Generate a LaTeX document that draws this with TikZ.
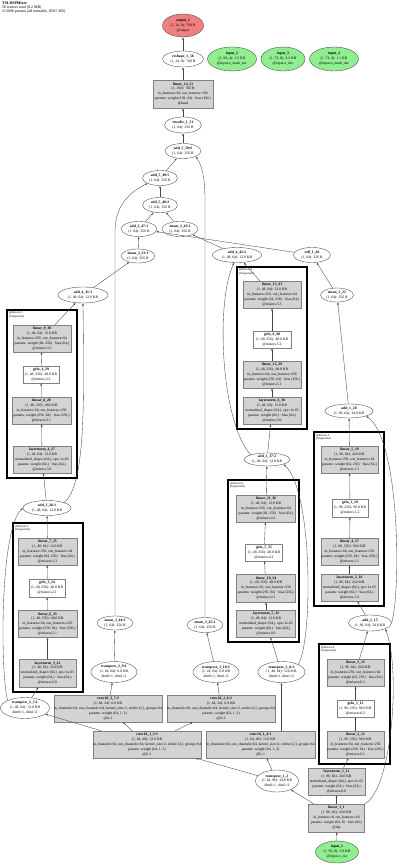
\documentclass[tikz,border=0pt]{standalone}
\usepackage{fontspec}
\setmainfont{Liberation Serif}
\usetikzlibrary{shapes.geometric,arrows.meta}
\definecolor{lgray}{RGB}{211,211,211}
\definecolor{lgreen}{RGB}{144,238,144}
\definecolor{lcoral}{RGB}{240,128,128}
\definecolor{edgec}{RGB}{70,70,70}
\newcommand{\gn}[7]{\node[#1,minimum width=#5pt,minimum height=#6pt] (#2) at (#3,#4) {};\node[txt] (#2t) at (#2.center) {#7};}
\tikzset{
  ell/.style={ellipse, draw=edgec, line width=0.35pt, fill=white, inner sep=0pt},
  grn/.style={ell, fill=lgreen},
  red/.style={ell, fill=lcoral},
  gbox/.style={rectangle, draw=gray, line width=0.35pt, fill=lgray, inner sep=0pt},
  wbox/.style={rectangle, draw=gray, line width=0.35pt, fill=white, inner sep=0pt},
  txt/.style={align=center, font=\fontsize{3.7}{4.95}\selectfont, inner sep=0pt},
  clus/.style={draw=black, line width=1.9pt},
  clab/.style={anchor=north west, align=left, font=\fontsize{3}{3.3}\selectfont, inner sep=0pt},
  ar/.style={-{Latex[length=2.4pt,width=1.8pt]}, line width=0.35pt, draw=edgec}
}
\begin{document}
\begin{tikzpicture}[x=1pt,y=-1pt]
\fill[white] (0,0) rectangle (400,866);
\useasboundingbox (0,0) rectangle (400,866);
\node[anchor=north west, align=left, font=\fontsize{3.9}{3.9}\selectfont, inner sep=0pt] (title) at (2,1.5) {\textbf{TSLDSPMixer}\\50 tensors total (0.2 MB)\\213008 params (all trainable, 850.5 KB)};
% clusters
\draw[clus] (7,310) rectangle (77,478);
\node[clab] (k3) at (9,311.8) {@mixers.3\\(Sequential)};
\draw[clus] (13,523) rectangle (83,692);
\node[clab] (k2) at (15,524.8) {@mixers.2\\(Sequential)};
\draw[clus] (228,480) rectangle (299,642);
\node[clab] (k4) at (230,481.8) {@mixers.4\\(Sequential)};
\draw[clus] (237,267) rectangle (307,429);
\node[clab] (k5) at (239,268.8) {@mixers.5\\(Sequential)};
\draw[clus] (314,432) rectangle (384,606);
\node[clab] (k1) at (316,433.8) {@mixers.1\\(Sequential)};
\draw[clus] (319,644) rectangle (390,764);
\node[clab] (k0) at (321,645.8) {@mixers.0\\(Sequential)};
% top
\gn{red}{out}{183}{25.5}{41}{23}{\textbf{output\_1}\\(1, 24, 8): 768 B\\@output}
\gn{ell}{resh}{183}{59}{41}{16}{\textbf{reshape\_1\_58}\\(1, 24, 8): 768 B}
\gn{grn}{inB}{232}{59}{49}{24}{\textbf{input\_2}\\(1, 96, 4): 1.5 KB\\@input.x\_mark\_enc}
\gn{grn}{inC}{283}{59}{44}{24}{\textbf{input\_3}\\(1, 72, 8): 2.2 KB\\@input.x\_dec}
\gn{grn}{inD}{334}{59}{49}{24}{\textbf{input\_4}\\(1, 72, 4): 1.1 KB\\@input.x\_mark\_dec}
\gn{gbox}{head}{183}{94}{60}{28}{\textbf{linear\_14\_52}\\(1, 192): 768 B\\in\_features=64, out\_features=192\\params: weight (192, 64) · bias (192,)\\@head}
\gn{ell}{div}{183}{125}{37}{16}{\textbf{truediv\_1\_51}\\(1, 64): 256 B}
\gn{ell}{a50}{183}{151}{36}{15}{\textbf{add\_5\_50:6}\\(1, 64): 256 B}
\gn{ell}{a49}{160}{178}{35}{15}{\textbf{add\_5\_49:5}\\(1, 64): 256 B}
\gn{ell}{a48}{160}{205}{35}{15}{\textbf{add\_5\_48:2}\\(1, 64): 256 B}
\gn{ell}{a47}{139}{229}{36}{15}{\textbf{add\_3\_47:1}\\(1, 64): 256 B}
\gn{ell}{m43}{180}{229}{36}{15}{\textbf{mean\_2\_43:2}\\(1, 64): 256 B}
\gn{ell}{m32}{138}{256}{34}{14}{\textbf{mean\_3\_32:1}\\(1, 64): 256 B}
\gn{ell}{a42}{237}{255}{49}{15}{\textbf{add\_4\_42:2}\\(1, 48, 64): 12.0 KB}
\gn{ell}{r46}{312}{255}{37}{15}{\textbf{roll\_1\_46}\\(1, 64): 256 B}
\gn{ell}{m21}{337}{295}{33}{14}{\textbf{mean\_1\_21}\\(1, 64): 256 B}
\gn{ell}{a20}{349}{411}{48}{14}{\textbf{add\_1\_20}\\(1, 96, 64): 24.0 KB}
\gn{ell}{a31}{83}{295}{50}{16}{\textbf{add\_4\_31:1}\\(1, 48, 64): 12.0 KB}
% mixers.3
\gn{gbox}{l30}{42}{338.5}{58}{27}{\textbf{linear\_9\_30}\\(1, 48, 64): 12.0 KB\\in\_features=256, out\_features=64\\params: weight (64, 256) · bias (64,)\\@mixers.3.3}
\gn{wbox}{g29}{41}{374.5}{36}{17}{\textbf{gelu\_4\_29}\\(1, 48, 256): 48.0 KB\\@mixers.3.2}
\gn{gbox}{l28}{41.5}{410.5}{59}{27}{\textbf{linear\_8\_28}\\(1, 48, 256): 48.0 KB\\in\_features=64, out\_features=256\\params: weight (256, 64) · bias (256,)\\@mixers.3.1}
\gn{gbox}{n27}{42}{459.5}{58}{27}{\textbf{layernorm\_4\_27}\\(1, 48, 64): 12.0 KB\\normalized\_shape=(64,), eps=1e-05\\params: weight (64,) · bias (64,)\\@mixers.3.0}
\gn{ell}{a26}{47}{508}{48}{15}{\textbf{add\_3\_26:1}\\(1, 48, 64): 12.0 KB}
% mixers.2
\gn{gbox}{l25}{47.5}{551.5}{59}{27}{\textbf{linear\_7\_25}\\(1, 48, 64): 12.0 KB\\in\_features=256, out\_features=64\\params: weight (64, 256) · bias (64,)\\@mixers.2.3}
\gn{wbox}{g24}{47}{588}{36}{18}{\textbf{gelu\_3\_24}\\(1, 48, 256): 48.0 KB\\@mixers.2.2}
\gn{gbox}{l23}{47.5}{624}{59}{27}{\textbf{linear\_6\_23}\\(1, 48, 256): 48.0 KB\\in\_features=64, out\_features=256\\params: weight (256, 64) · bias (256,)\\@mixers.2.1}
\gn{gbox}{n22}{47.5}{673}{57}{28}{\textbf{layernorm\_3\_22}\\(1, 48, 64): 12.0 KB\\normalized\_shape=(64,), eps=1e-05\\params: weight (64,) · bias (64,)\\@mixers.2.0}
\gn{ell}{tr5}{25}{708}{49}{21}{\textbf{transpose\_2\_5:1}\\(1, 48, 64): 12.0 KB\\dim0=1, dim1=2}
% bottom middle
\gn{ell}{m44}{115}{623}{36}{14}{\textbf{mean\_3\_44:3}\\(1, 64): 256 B}
\gn{ell}{m45}{205}{625}{36}{15}{\textbf{mean\_3\_45:2}\\(1, 64): 256 B}
\gn{ell}{tr9}{114}{672}{46}{21}{\textbf{transpose\_2\_9:1}\\(1, 24, 64): 6.0 KB\\dim0=1, dim1=2}
\gn{ell}{tr10}{216}{672}{46}{21}{\textbf{transpose\_3\_10:2}\\(1, 24, 64): 6.0 KB\\dim0=1, dim1=2}
\gn{ell}{tr8}{281.5}{672}{47}{21}{\textbf{transpose\_2\_8:2}\\(1, 48, 64): 12.0 KB\\dim0=1, dim1=2}
\gn{gbox}{c7}{108}{708.5}{108}{27}{\textbf{conv1d\_3\_7:2}\\(1, 64, 24): 6.0 KB\\in\_channels=64, out\_channels=64, kernel\_size=2, stride=(2,), groups=64\\params: weight (64, 1, 2)\\@lc.2}
\gn{gbox}{c6}{221}{708.5}{108}{27}{\textbf{conv1d\_2\_6:2}\\(1, 64, 24): 6.0 KB\\in\_channels=64, out\_channels=64, kernel\_size=2, stride=(2,), groups=64\\params: weight (64, 1, 2)\\@lc.2}
\gn{gbox}{c3}{147}{744.5}{108}{27}{\textbf{conv1d\_1\_3:1}\\(1, 64, 48): 12.0 KB\\in\_channels=64, out\_channels=64, kernel\_size=2, stride=(2,), groups=64\\params: weight (64, 1, 2)\\@lc.1}
\gn{gbox}{c4}{260.5}{744.5}{109}{27}{\textbf{conv1d\_1\_4:1}\\(1, 64, 48): 12.0 KB\\in\_channels=64, out\_channels=64, kernel\_size=2, stride=(2,), groups=64\\params: weight (64, 1, 2)\\@lc.1}
\gn{ell}{tr2}{277}{781}{43}{22}{\textbf{transpose\_1\_2}\\(1, 64, 96): 24.0 KB\\dim0=1, dim1=2}
% mixers.4
\gn{gbox}{l36}{266}{508.5}{59}{27}{\textbf{linear\_11\_36}\\(1, 48, 64): 12.0 KB\\in\_features=256, out\_features=64\\params: weight (64, 256) · bias (64,)\\@mixers.4.3}
\gn{wbox}{g35}{264}{552.5}{37}{17}{\textbf{gelu\_5\_35}\\(1, 48, 256): 48.0 KB\\@mixers.4.2}
\gn{gbox}{l34}{266}{588}{59}{28}{\textbf{linear\_10\_34}\\(1, 48, 256): 48.0 KB\\in\_features=64, out\_features=256\\params: weight (256, 64) · bias (256,)\\@mixers.4.1}
\gn{gbox}{n33}{266}{623.5}{59}{27}{\textbf{layernorm\_5\_33}\\(1, 48, 64): 12.0 KB\\normalized\_shape=(64,), eps=1e-05\\params: weight (64,) · bias (64,)\\@mixers.4.0}
\gn{ell}{a37}{267}{459.5}{46}{13}{\textbf{add\_3\_37:2}\\(1, 48, 64): 12.0 KB}
% mixers.5
\gn{gbox}{l41}{272}{294.5}{58}{27}{\textbf{linear\_13\_41}\\(1, 48, 64): 12.0 KB\\in\_features=256, out\_features=64\\params: weight (64, 256) · bias (64,)\\@mixers.5.3}
\gn{wbox}{g40}{272}{339.5}{38}{17}{\textbf{gelu\_6\_40}\\(1, 48, 256): 48.0 KB\\@mixers.5.2}
\gn{gbox}{l39}{272}{374.5}{58}{27}{\textbf{linear\_12\_39}\\(1, 48, 256): 48.0 KB\\in\_features=64, out\_features=256\\params: weight (256, 64) · bias (256,)\\@mixers.5.1}
\gn{gbox}{n38}{272}{410.5}{58}{27}{\textbf{layernorm\_6\_38}\\(1, 48, 64): 12.0 KB\\normalized\_shape=(64,), eps=1e-05\\params: weight (64,) · bias (64,)\\@mixers.5.0}
% mixers.1
\gn{gbox}{l19}{349.5}{459.5}{57}{27}{\textbf{linear\_5\_19}\\(1, 96, 64): 24.0 KB\\in\_features=256, out\_features=64\\params: weight (64, 256) · bias (64,)\\@mixers.1.3}
\gn{wbox}{g18}{350}{508}{36}{18}{\textbf{gelu\_2\_18}\\(1, 96, 256): 96.0 KB\\@mixers.1.2}
\gn{gbox}{l17}{349.5}{551.5}{57}{27}{\textbf{linear\_4\_17}\\(1, 96, 256): 96.0 KB\\in\_features=64, out\_features=256\\params: weight (256, 64) · bias (256,)\\@mixers.1.1}
\gn{gbox}{n16}{349.5}{587.5}{57}{27}{\textbf{layernorm\_2\_16}\\(1, 96, 64): 24.0 KB\\normalized\_shape=(64,), eps=1e-05\\params: weight (64,) · bias (64,)\\@mixers.1.0}
\gn{ell}{a15}{370}{623}{43}{16}{\textbf{add\_1\_15}\\(1, 96, 64): 24.0 KB}
% mixers.0
\gn{gbox}{l14}{355.5}{672.5}{57}{27}{\textbf{linear\_3\_14}\\(1, 96, 64): 24.0 KB\\in\_features=256, out\_features=64\\params: weight (64, 256) · bias (64,)\\@mixers.0.3}
\gn{wbox}{g13}{355.5}{708.5}{37}{17}{\textbf{gelu\_1\_13}\\(1, 96, 256): 96.0 KB\\@mixers.0.2}
\gn{gbox}{l12}{355.5}{744.5}{57}{27}{\textbf{linear\_2\_12}\\(1, 96, 256): 96.0 KB\\in\_features=64, out\_features=256\\params: weight (256, 64) · bias (256,)\\@mixers.0.1}
\gn{gbox}{n11}{336.5}{781.5}{57}{27}{\textbf{layernorm\_1\_11}\\(1, 96, 64): 24.0 KB\\normalized\_shape=(64,), eps=1e-05\\params: weight (64,) · bias (64,)\\@mixers.0.0}
\gn{gbox}{l1}{336.5}{818}{56}{28}{\textbf{linear\_1\_1}\\(1, 96, 64): 24.0 KB\\in\_features=8, out\_features=64\\params: weight (64, 8) · bias (64,)\\@inp}
\gn{grn}{in1}{337}{852}{43}{22}{\textbf{input\_1}\\(1, 96, 8): 3.0 KB\\@input.x\_enc}
% edges
\draw[ar] (in1) -- (l1);
\draw[ar] (l1) -- (n11);
\draw[ar] (l1) -- (tr2);
\draw[ar] (l1.north east) .. controls (392,790) and (401,670) .. (a15.south east);
\draw[ar] (n11) -- (l12);
\draw[ar] (l12) -- (g13);
\draw[ar] (g13) -- (l14);
\draw[ar] (l14) -- (a15);
\draw[ar] (a15) -- (n16);
\draw[ar] (n16) -- (l17);
\draw[ar] (l17) -- (g18);
\draw[ar] (g18) -- (l19);
\draw[ar] (l19) -- (a20);
\draw[ar] (a15.east) .. controls (401,590) and (400,440) .. (a20.south east);
\draw[ar] (a20) -- (m21);
\draw[ar] (m21) -- (r46);
\draw[ar] (r46) -- (a47);
\draw[ar] (tr2) -- (c3);
\draw[ar] (tr2) -- (c4);
\draw[ar] (c3) -- (c7);
\draw[ar] (c3) -- (c6);
\draw[ar] (c3) -- (tr5);
\draw[ar] (c4.north -| tr8.south) -- (tr8.south);
\draw[ar] (c7) -- (tr9);
\draw[ar] (c6) -- (tr10);
\draw[ar] (tr9) -- (m44);
\draw[ar] (tr10) -- (m45);
\draw[ar] (tr5) -- (n22);
\draw[ar] (tr5.north west) .. controls (0,670) and (0,530) .. (a26.west);
\draw[ar] (n22) -- (l23);
\draw[ar] (l23) -- (g24);
\draw[ar] (g24) -- (l25);
\draw[ar] (l25) -- (a26);
\draw[ar] (a26) -- (n27);
\draw[ar] (n27) -- (l28);
\draw[ar] (l28) -- (g29);
\draw[ar] (g29) -- (l30);
\draw[ar] (l30) -- (a31);
\draw[ar] (a26.north east) .. controls (86,485) and (84,400) .. (a31.south);
\draw[ar] (a31) -- (m32);
\draw[ar] (m32) -- (a47);
\draw[ar] (tr8) -- (n33);
\draw[ar] (n33) -- (l34);
\draw[ar] (l34) -- (g35);
\draw[ar] (g35) -- (l36);
\draw[ar] (l36) -- (a37);
\draw[ar] (tr8.north east) .. controls (313,640) and (313,490) .. (a37.south east);
\draw[ar] (a37) -- (n38);
\draw[ar] (n38) -- (l39);
\draw[ar] (l39) -- (g40);
\draw[ar] (g40) -- (l41);
\draw[ar] (l41) -- (a42);
\draw[ar] (a37.north west) .. controls (220,420) and (216,300) .. (a42.250);
\draw[ar] (a42) -- (m43);
\draw[ar] (a47) -- (a48);
\draw[ar] (m43) -- (a48);
\draw[ar] (a48) -- (a49);
\draw[ar] (a49) -- (a50);
\draw[ar] (a50) -- (div);
\draw[ar] (div) -- (head);
\draw[ar] (head) -- (resh);
\draw[ar] (resh) -- (out);
\draw[ar] (m44.north) -- (115,232) .. controls (115,205) and (130,192) .. (a49.south west);
\draw[ar] (m45.north) -- (205,200) .. controls (205,172) and (200,163) .. (a50.south east);
\end{tikzpicture}
\end{document}
